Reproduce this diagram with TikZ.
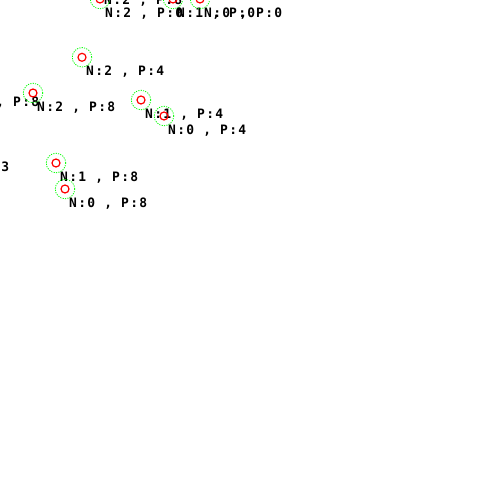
\documentclass[tikz,border=0pt]{standalone}
\usepackage{fontspec}
\newfontfamily\tagfont[LetterSpace=10]{DejaVu Sans Mono}
\usetikzlibrary{positioning}

\begin{document}
\begin{tikzpicture}[
    x=1bp, y=-1bp,
    halo/.style={circle, draw=green, line width=0.8bp, dash pattern=on 1.2bp off 1.2bp, minimum size=19.5bp, inner sep=0pt},
    pt/.style={circle, draw=red, line width=1.2bp, minimum size=8bp, inner sep=0pt, label={[halo]center:{}}},
    tag/.style={anchor=base west, inner sep=0pt, font=\tagfont\bfseries\fontsize{13}{13}\selectfont},
  ]
    \useasboundingbox (0,0) rectangle (500,500);
    \clip (0,0) rectangle (500,500);
    % states
    \coordinate (a) at (100,-14);
    \coordinate (b) at (100,-1);
    \coordinate (c) at (173,-1);
    \coordinate (d) at (200,-1);
    \coordinate (e) at (82,57.3);
    \coordinate (f) at (-43,88);
    \coordinate (g) at (33,93);
    \coordinate (h) at (141,100);
    \coordinate (i) at (164,116);
    \coordinate (j) at (-73,153);
    \coordinate (k) at (56,163);
    \coordinate (l) at (65,189);
    % texts
    \node[tag] (ta) at ([shift={(4,18.7)}]a) {N:2 , P:8};
    \node[tag] (tb) at ([shift={(5,18.7)}]b) {N:2 , P:0};
    \node[tag] (tc) at ([shift={(4,18.7)}]c) {N:1 , P:0};
    \node[tag] (td) at ([shift={(4,18.7)}]d) {N:0 , P:0};
    \node[tag] (te) at ([shift={(4,18.7)}]e) {N:2 , P:4};
    \node[tag] (tf) at ([shift={(4,18.7)}]f) {N:3 , P:8};
    \node[tag] (tg) at ([shift={(4,18.7)}]g) {N:2 , P:8};
    \node[tag] (th) at ([shift={(4,18.7)}]h) {N:1 , P:4};
    \node[tag] (ti) at ([shift={(4,18.7)}]i) {N:0 , P:4};
    \node[tag] (tj) at ([shift={(4,18.7)}]j) {N:1 , P:3};
    \node[tag] (tk) at ([shift={(4,18.7)}]k) {N:1 , P:8};
    \node[tag] (tl) at ([shift={(4,18.7)}]l) {N:0 , P:8};
    % markers
    \node[pt] (na) at (a) {};
    \node[pt] (nb) at (b) {};
    \node[pt] (nc) at (c) {};
    \node[pt] (nd) at (d) {};
    \node[pt] (ne) at (e) {};
    \node[pt] (nf) at (f) {};
    \node[pt] (ng) at (g) {};
    \node[pt] (nh) at (h) {};
    \node[pt] (ni) at (i) {};
    \node[pt] (nj) at (j) {};
    \node[pt] (nk) at (k) {};
    \node[pt] (nl) at (l) {};
\end{tikzpicture}
\end{document}
